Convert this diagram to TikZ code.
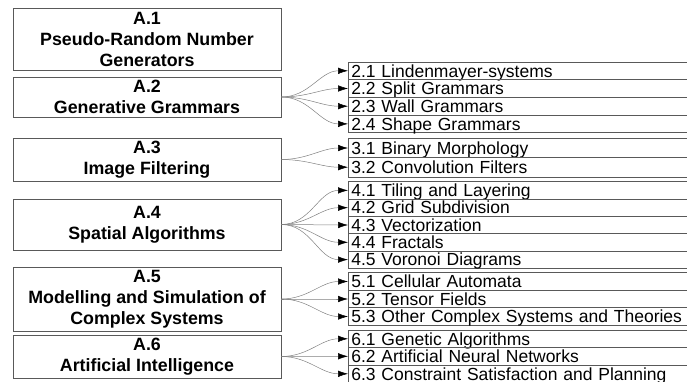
\documentclass[tikz,border=0pt]{standalone}
\usepackage{fontspec}
\setmainfont{Liberation Sans}
\usetikzlibrary{arrows.meta}
\tikzset{
  >= {Latex[black,length=10pt,width=6.5pt]},
  lb/.style={rectangle, draw=gray!70!black, line width=0.6pt, minimum width=268pt, minimum height=#1, align=center, inner sep=0pt, font=\fontsize{17.8pt}{21pt}\selectfont\bfseries},
  rb/.style={rectangle, draw=gray!70!black, line width=0.6pt, anchor=west, minimum width=360pt, minimum height=#1, text width=354pt, inner xsep=3pt, inner ysep=0pt, text height=12.5pt, text depth=0pt, align=left, font=\fontsize{17.5pt}{17.5pt}\selectfont},
  ar/.style={->, draw=gray, line width=0.5pt, out=0, in=180}
}

\begin{document}
\begin{tikzpicture}[x=1pt, y=-1pt]
  \clip (0,0) rectangle (687,382);
  % left column
  \node[lb=62pt] (a1) at (147,39) {A.1\\Pseudo-Random Number\\Generators};
  \node[lb=40pt] (a2) at (147,97) {A.2\\Generative Grammars};
  \node[lb=43pt] (a3) at (147,159.5) {A.3\\Image Filtering};
  \node[lb=51pt] (a4) at (147,224.5) {A.4\\Spatial Algorithms};
  \node[lb=64pt] (a5) at (147,299) {A.5\\Modelling and Simulation of\\Complex Systems};
  \node[lb=43pt] (a6) at (147,356.5) {A.6\\Artificial Intelligence};

  % right column
  \node[rb=17.7pt] (r21) at (348,70.8) {2.1 Lindenmayer-systems};
  \node[rb=17.7pt] (r22) at (348,88.5) {2.2 Split Grammars};
  \node[rb=17.7pt] (r23) at (348,106.2) {2.3 Wall Grammars};
  \node[rb=17.7pt] (r24) at (348,123.9) {2.4 Shape Grammars};

  \node[rb=19.2pt] (r31) at (348,148) {3.1 Binary Morphology};
  \node[rb=19.2pt] (r32) at (348,167.2) {3.2 Convolution Filters};

  \node[rb=17.3pt] (r41) at (348,190.4) {4.1 Tiling and Layering};
  \node[rb=17.3pt] (r42) at (348,207.7) {4.2 Grid Subdivision};
  \node[rb=17.3pt] (r43) at (348,225) {4.3 Vectorization};
  \node[rb=17.3pt] (r44) at (348,242.3) {4.4 Fractals};
  \node[rb=17.3pt] (r45) at (348,259.6) {4.5 Voronoi Diagrams};

  \node[rb=17.5pt] (r51) at (348,281.5) {5.1 Cellular Automata};
  \node[rb=17.5pt] (r52) at (348,299) {5.2 Tensor Fields};
  \node[rb=17.5pt] (r53) at (348,316.5) {5.3 Other Complex Systems and Theories};

  \node[rb=17.5pt] (r61) at (348,338.8) {6.1 Genetic Algorithms};
  \node[rb=17.5pt] (r62) at (348,356.3) {6.2 Artificial Neural Networks};
  \node[rb=17.5pt] (r63) at (348,373.8) {6.3 Constraint Satisfaction and Planning};

  % connectors
  \foreach \i in {21,22,23,24} \draw[ar] (a2.east) to (r\i.west);
  \foreach \i in {31,32} \draw[ar] (a3.east) to (r\i.west);
  \foreach \i in {41,42,43,44,45} \draw[ar] (a4.east) to (r\i.west);
  \foreach \i in {51,52,53} \draw[ar] (a5.east) to (r\i.west);
  \foreach \i in {61,62,63} \draw[ar] (a6.east) to (r\i.west);
\end{tikzpicture}
\end{document}
